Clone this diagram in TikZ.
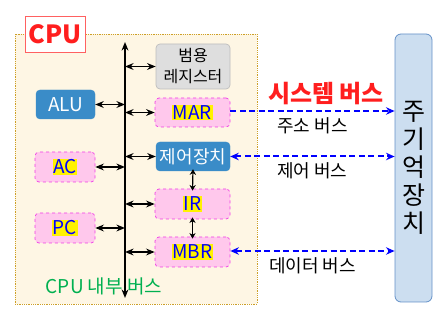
\documentclass[tikz,border=0pt]{standalone}
\usepackage{fontspec}
\setmainfont{Noto Sans CJK KR}
\usetikzlibrary{
	arrows.meta,
	positioning
}
\definecolor{cream}{RGB}{254,246,228}
\definecolor{gold}{RGB}{205,160,40}
\definecolor{boxblue}{RGB}{58,140,200}
\definecolor{pinkfill}{RGB}{255,200,236}
\definecolor{pinkline}{RGB}{240,60,230}
\definecolor{grayfill}{RGB}{222,222,222}
\definecolor{grayline}{RGB}{190,190,190}
\definecolor{memfill}{RGB}{204,222,240}
\definecolor{memline}{RGB}{100,145,200}
\definecolor{cpured}{RGB}{255,30,30}
\definecolor{busgreen}{RGB}{0,176,80}
\newcommand{\hlreg}[1]{{\setlength{\fboxsep}{0.6pt}\colorbox{yellow}{\textcolor{blue}{#1}}}}

\begin{document}
\begin{tikzpicture}[
	x=1pt, y=-1pt,
	reg/.style={
		rectangle,
		rounded corners=4pt,
		align=center,
		inner sep=0pt,
		font=\fontsize{19}{21}\selectfont
	},
	bluebox/.style={reg, fill=boxblue, draw=boxblue, text=white},
	pinkbox/.style={reg, fill=pinkfill, draw=pinkline, dashed, line width=0.7pt},
	graybox/.style={reg, fill=grayfill, draw=grayline, line width=0.7pt, font=\fontsize{16}{21}\selectfont},
	edge/.style={{Stealth[length=3mm,width=2.4mm]}-{Stealth[length=3mm,width=2.4mm]}, line width=1.4pt, draw=black},
	shortedge/.style={{Stealth[length=2mm,width=2.2mm]}-{Stealth[length=2mm,width=2.2mm]}, line width=1.2pt, draw=black},
	busline/.style={{Stealth[length=3mm,width=2.4mm]}-{Stealth[length=3mm,width=2.4mm]}, line width=1.8pt, draw=black},
	sysbus/.style={-{Stealth[length=3mm,width=2.6mm]}, line width=2pt, draw=blue, dash pattern=on 6pt off 3.5pt},
	sysbus2/.style={sysbus, {Stealth[length=3mm,width=2.6mm]}-{Stealth[length=3mm,width=2.6mm]}},
	label/.style={font=\fontsize{18}{20}\selectfont, text=black}
]
\useasboundingbox (0,0) rectangle (448,318);

% CPU
\node[rectangle, fill=cream, draw=gold, densely dotted, line width=0.8pt, minimum width=242pt, minimum height=270pt] (cpu) at (136,169) {};
\node[rectangle, fill=white, draw=cpured!70, line width=0.8pt, minimum width=60pt, minimum height=36pt, text=cpured, font=\fontsize{25}{27}\selectfont\bfseries] (cpulbl) at (55,34) {CPU};

% Registers
\node[graybox, minimum width=74pt, minimum height=45pt] (gpr) at (193,66.5) {범용\\레지스터};
\node[pinkbox, minimum width=75pt, minimum height=29pt] (mar) at (192.5,112.5) {\hlreg{MAR}};
\node[bluebox, minimum width=74pt, minimum height=29pt, font=\fontsize{18}{20}\selectfont] (cu) at (193,156.5) {제어장치};
\node[pinkbox, minimum width=75pt, minimum height=30pt] (ir) at (192.5,204) {\hlreg{IR}};
\node[pinkbox, minimum width=75pt, minimum height=30pt] (mbr) at (192.5,252) {\hlreg{MBR}};

\node[bluebox, minimum width=59pt, minimum height=29pt] (alu) at (65.5,104.5) {ALU};
\node[pinkbox, minimum width=60pt, minimum height=30pt] (ac) at (65,167) {\hlreg{AC}};
\node[pinkbox, minimum width=60pt, minimum height=30pt] (pc) at (65,228) {\hlreg{PC}};

% Internal bus
\coordinate (bustop) at (125,42);
\coordinate (busbot) at (125,298);
\draw[busline] (bustop) -- (busbot);
\node[font=\fontsize{19}{21}\selectfont, text=busgreen] (inbus) at (104,286) {CPU 내부 버스};

\draw[edge] (gpr.west) -- (gpr.west -| bustop);
\draw[edge] (mar.west) -- (mar.west -| bustop);
\draw[edge] (cu.west) -- (cu.west -| bustop);
\draw[edge] (ir.west) -- (ir.west -| bustop);
\draw[edge] (mbr.west) -- (mbr.west -| bustop);
\draw[edge] (alu.east) -- (alu.east -| bustop);
\draw[edge] (ac.east) -- (ac.east -| bustop);
\draw[edge] (pc.east) -- (pc.east -| bustop);
\draw[shortedge] ([yshift=2pt]cu.south) -- ([yshift=-2pt]ir.north);
\draw[shortedge] ([yshift=2pt]ir.south) -- ([yshift=-2pt]mbr.north);

% Memory
\node[rectangle, rounded corners=6pt, fill=memfill, draw=memline, line width=0.8pt, minimum width=37pt, minimum height=268pt, align=center, font=\fontsize{25}{28}\selectfont] (mem) at (413.5,168) {주\\기\\억\\장\\치};

% System bus
\node[font=\fontsize{24}{26}\selectfont\bfseries, text=cpured] (sysbus) at (326,94) {시스템 버스};
\draw[sysbus] ([yshift=1.5pt]mar.east) -- ([yshift=1.5pt]mar.east -| mem.west) node[label, midway, below=2pt] (addr) {주소 버스};
\draw[sysbus2] (cu.east) -- (cu.east -| mem.west) node[label, midway, below=2pt] (ctrl) {제어 버스};
\draw[sysbus2] ([yshift=1pt]mbr.east) -- ([yshift=1pt]mbr.east -| mem.west) node[label, midway, below=2pt] (data) {데이터 버스};
\end{tikzpicture}
\end{document}
